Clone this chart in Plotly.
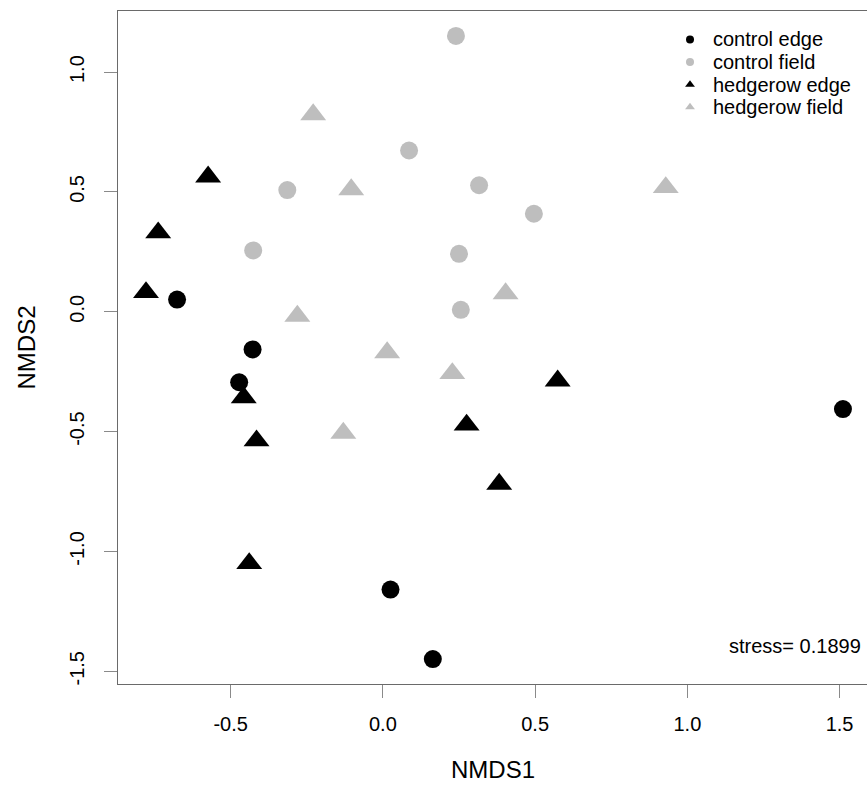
import plotly.graph_objects as go

# ---- data ----
groups = ["control edge", "control field", "hedgerow edge", "hedgerow field"]

ce_x = [-0.676, -0.428, -0.472, 0.025, 0.164, 1.511]
ce_y = [0.051, -0.157, -0.294, -1.159, -1.449, -0.406]

cf_x = [0.240, 0.086, -0.314, 0.316, 0.496, -0.426, 0.250, 0.256]
cf_y = [1.151, 0.673, 0.508, 0.528, 0.409, 0.256, 0.242, 0.008]

he_x = [-0.574, -0.738, -0.778, -0.457, -0.415, -0.439, 0.275, 0.382, 0.574]
he_y = [0.563, 0.330, 0.081, -0.358, -0.538, -1.050, -0.472, -0.719, -0.288]

hf_x = [-0.229, -0.104, 0.929, -0.281, 0.403, 0.014, 0.228, -0.130]
hf_y = [0.823, 0.510, 0.519, -0.018, 0.076, -0.170, -0.257, -0.506]

x_ticks = [-0.5, 0.0, 0.5, 1.0, 1.5]
x_labels = ["-0.5", "0.0", "0.5", "1.0", "1.5"]
y_ticks = [-1.5, -1.0, -0.5, 0.0, 0.5, 1.0]
y_labels = ["-1.5", "-1.0", "-0.5", "0.0", "0.5", "1.0"]
stress_text = "stress= 0.1899"

BLACK = "#000000"
GREY = "#BEBEBE"
FONT = "Liberation Sans, Arial, Helvetica, sans-serif"

series = [
    (groups[0], ce_x, ce_y, "circle", BLACK, 18),
    (groups[1], cf_x, cf_y, "circle", GREY, 18),
    (groups[2], he_x, he_y, "triangle-up", BLACK, 22.5),
    (groups[3], hf_x, hf_y, "triangle-up", GREY, 22.5),
]

fig = go.Figure()
for name, xs, ys, sym, col, sz in series:
    fig.add_trace(go.Scatter(
        x=xs, y=ys, mode="markers", name=name, showlegend=False,
        marker=dict(symbol=sym, color=col, size=sz, line=dict(width=0)),
        hoverinfo="x+y+name",
    ))

# ---- custom legend (overlay axes in 0..1 space) ----
leg_x = 0.7637
leg_y0 = 0.9577
leg_dy = 0.0335
for i, (name, xs, ys, sym, col, sz) in enumerate(series):
    yy = leg_y0 - i * leg_dy
    fig.add_trace(go.Scatter(
        x=[leg_x], y=[yy], xaxis="x2", yaxis="y2", mode="markers",
        showlegend=False, hoverinfo="skip",
        marker=dict(symbol=sym, color=col, size=8 if sym == "circle" else 8.5,
                    line=dict(width=0)),
    ))
    fig.add_annotation(
        x=leg_x + 0.0277, y=yy, xref="x2", yref="y2", text=name,
        showarrow=False, xanchor="left", yanchor="middle",
        font=dict(family=FONT, size=20, color="#000000"),
    )

fig.add_annotation(
    x=0.9947, y=0.0559, xref="paper", yref="paper", text=stress_text,
    showarrow=False, xanchor="right", yanchor="middle",
    font=dict(family=FONT, size=20, color="#000000"),
)
fig.add_annotation(
    x=0.5, y=-0.127, xref="paper", yref="paper", text="NMDS1",
    showarrow=False, xanchor="center", yanchor="middle",
    font=dict(family=FONT, size=24, color="#000000"),
)
fig.add_annotation(
    x=-0.1215, y=0.5, xref="paper", yref="paper", text="NMDS2",
    showarrow=False, xanchor="center", yanchor="middle", textangle=-90,
    font=dict(family=FONT, size=24, color="#000000"),
)

AX = "#6a6a6a"
fig.update_layout(
    width=867, height=785,
    margin=dict(l=118, r=0, t=10.5, b=101.4, pad=0),
    paper_bgcolor="white", plot_bgcolor="white",
    font=dict(family=FONT, size=20, color="#000000"),
    xaxis=dict(
        range=[-0.870, 1.590], tickvals=x_ticks, ticktext=x_labels,
        showgrid=False, zeroline=False, showline=True, linecolor=AX,
        linewidth=1, mirror=True, ticks="outside", ticklen=13,
        tickcolor="#8a8a8a", tickwidth=1, ticklabelstandoff=9,
        tickfont=dict(family=FONT, size=20, color="#000000"),
    ),
    yaxis=dict(
        range=[-1.553, 1.255], tickvals=y_ticks, ticktext=y_labels,
        showgrid=False, zeroline=False, showline=True, linecolor=AX,
        linewidth=1, mirror=False, ticks="outside", ticklen=13,
        tickcolor="#8a8a8a", tickwidth=1, tickangle=-90, ticklabelstandoff=12,
        tickfont=dict(family=FONT, size=20, color="#000000"),
    ),
    xaxis2=dict(overlaying="x", range=[0, 1], visible=False, fixedrange=True),
    yaxis2=dict(overlaying="y", range=[0, 1], visible=False, fixedrange=True),
)

fig.write_html("out.html")
